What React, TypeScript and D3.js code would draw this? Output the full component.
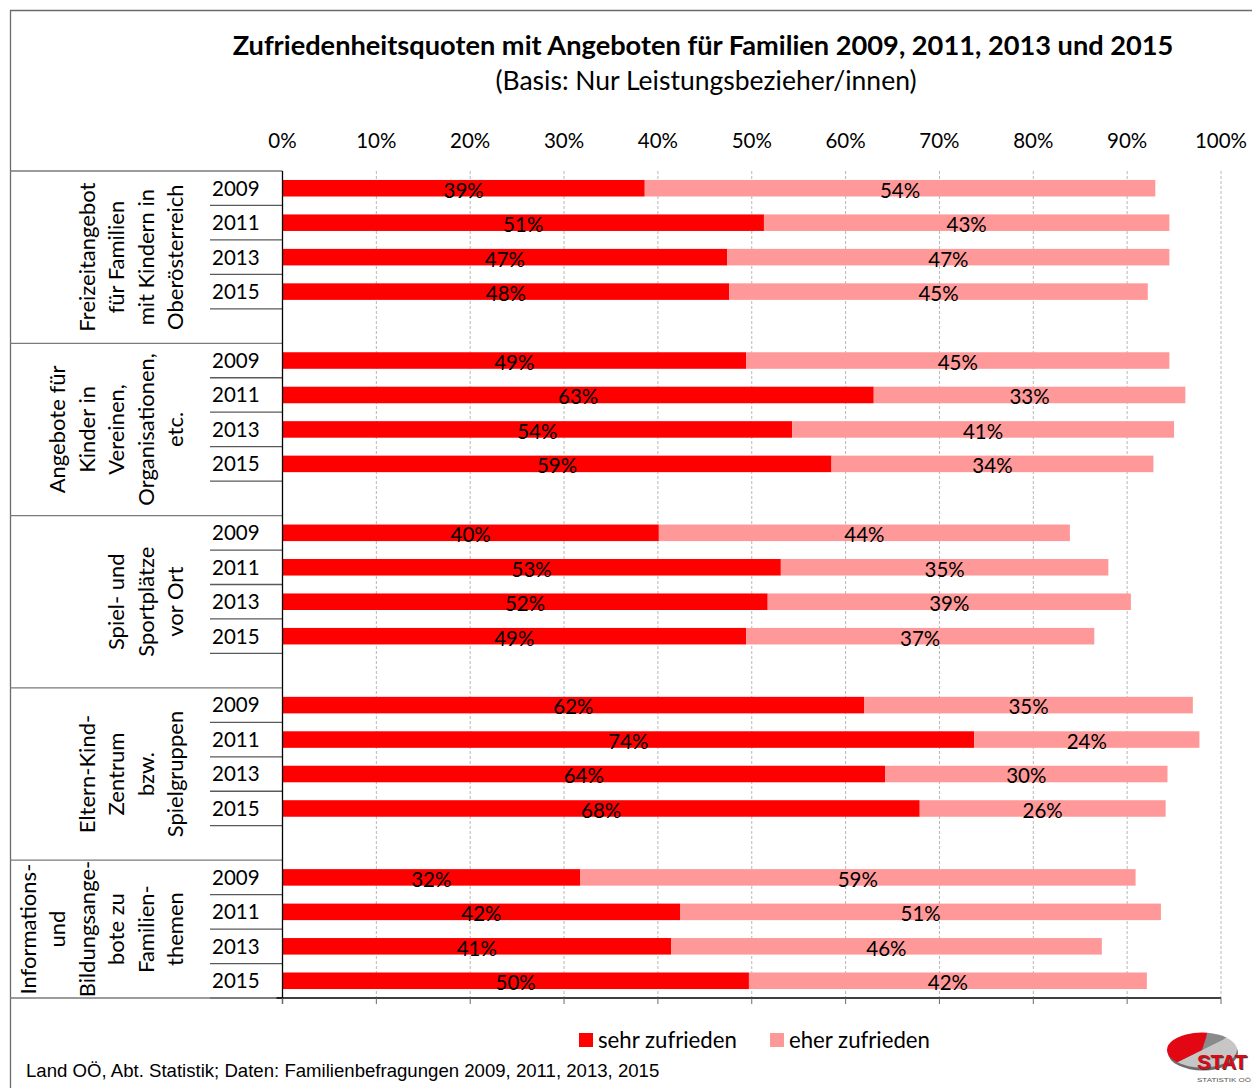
import React from "react";
import * as d3 from "d3";

const groupLabels: string[][] = [
  ["Freizeitangebot", "für Familien", "mit Kindern in", "Oberösterreich"],
  ["Angebote für", "Kinder in", "Vereinen,", "Organisationen,", "etc."],
  ["Spiel- und", "Sportplätze", "vor Ort"],
  ["Eltern-Kind-", "Zentrum", "bzw.", "Spielgruppen"],
  ["Informations-", "und", "Bildungsange-", "bote zu", "Familien-", "themen"],
];
const years = ["2009", "2011", "2013", "2015"];
// values per group, per year (percent)
const sehrZufrieden: number[][] = [
  [38.6, 51.3, 47.4, 47.6],
  [49.4, 63.0, 54.3, 58.5],
  [40.1, 53.1, 51.7, 49.4],
  [62.0, 73.7, 64.2, 67.9],
  [31.7, 42.4, 41.4, 49.7],
];
const eherZufrieden: number[][] = [
  [54.4, 43.2, 47.1, 44.6],
  [45.1, 33.2, 40.7, 34.3],
  [43.8, 34.9, 38.7, 37.1],
  [35.0, 24.0, 30.1, 26.2],
  [59.2, 51.2, 45.9, 42.4],
];
const xTicks = [0, 10, 20, 30, 40, 50, 60, 70, 80, 90, 100];
const seriesNames = ["sehr zufrieden", "eher zufrieden"];
const title = "Zufriedenheitsquoten mit Angeboten für Familien 2009, 2011, 2013 und 2015";
const subtitle = "(Basis: Nur Leistungsbezieher/innen)";
const source = "Land OÖ, Abt. Statistik; Daten: Familienbefragungen 2009, 2011, 2013, 2015";

const W = 1252;
const H = 1088;
const FONT = "Lato, Carlito, Calibri, 'Open Sans', sans-serif";
const ARIAL = "'Liberation Sans', Arial, sans-serif";
const RED = "#FF0000";
const PINK = "#FF9999";

export default function App() {
  const left = 282.5;
  const right = 1221;
  const top = 171;
  const bottom = 998;
  const nG = groupLabels.length;

  const x = d3.scaleLinear().domain([0, 100]).range([left, right]);

  const keys: string[] = [];
  groupLabels.forEach((_, gi) => {
    years.forEach((yr) => keys.push(`${gi}-${yr}`));
    if (gi < nG - 1) keys.push(`${gi}-blank`);
  });
  const y = d3
    .scaleBand<string>()
    .domain(keys)
    .range([top, bottom])
    .paddingInner(0.52)
    .paddingOuter(0.26);
  const step = y.step();

  const rows: { key: string; gi: number; yi: number; a: number; b: number }[] = [];
  groupLabels.forEach((_, gi) =>
    years.forEach((yr, yi) =>
      rows.push({ key: `${gi}-${yr}`, gi, yi, a: sehrZufrieden[gi][yi], b: eherZufrieden[gi][yi] })
    )
  );

  const groupStart = (gi: number) => top + gi * 5 * step;
  const groupEnd = (gi: number) => Math.min(bottom, top + (gi * 5 + 5) * step);

  const lastLineX = 175;
  const lineGap = 29.4;

  // logo
  const pie = d3.pie<number>().sort(null).startAngle(0.05 * Math.PI).endAngle(2.05 * Math.PI);
  const logoSlices = pie([0.1, 0.5, 0.4]);
  const arc = d3.arc<d3.PieArcDatum<number>>().innerRadius(0).outerRadius(35);
  const logoColors = ["#8a8a8a", "#c6c6c6", "#e30613"];

  return (
    <svg width={W} height={H} style={{ display: "block", position: "absolute", left: 0, top: 0 }} fontFamily={FONT}>
      <rect x={0} y={0} width={W} height={H} fill="#fff" />
      {/* outer frame */}
      <line x1={10} y1={10.5} x2={W} y2={10.5} stroke="#6b6b6b" strokeWidth={1.3} />
      <line x1={10.5} y1={10} x2={10.5} y2={H} stroke="#6b6b6b" strokeWidth={1.3} />

      {/* title */}
      <text x={703} y={55} textAnchor="middle" fontSize={27.2} fontWeight="bold" fill="#000">
        {title}
      </text>
      <text x={706} y={90} textAnchor="middle" fontSize={26.5} fill="#000">
        {subtitle}
      </text>

      {/* grid lines */}
      {xTicks.slice(1).map((t) => (
        <line key={`g${t}`} x1={x(t)} x2={x(t)} y1={top} y2={bottom} stroke="#b8b8b8" strokeWidth={1} strokeDasharray="3,2" />
      ))}
      {/* top tick labels */}
      {xTicks.map((t) => (
        <text key={`t${t}`} x={x(t)} y={148} textAnchor="middle" fontSize={20.5} fill="#000">
          {`${t}%`}
        </text>
      ))}

      {/* bars */}
      {rows.map((r) => {
        const yy = y(r.key)!;
        const bh = y.bandwidth();
        return (
          <g key={r.key}>
            <rect x={x(0)} y={yy} width={x(r.a) - x(0)} height={bh} fill={RED} />
            <rect x={x(r.a)} y={yy} width={x(r.a + r.b) - x(r.a)} height={bh} fill={PINK} />
            <text x={(x(0) + x(r.a)) / 2} y={yy + bh / 2 + 2} dy="0.36em" textAnchor="middle" fontSize={20.5} fill="#000">
              {`${Math.round(r.a)}%`}
            </text>
            <text x={(x(r.a) + x(r.a + r.b)) / 2} y={yy + bh / 2 + 2} dy="0.36em" textAnchor="middle" fontSize={20.5} fill="#000">
              {`${Math.round(r.b)}%`}
            </text>
            <text x={212} y={yy + bh / 2} dy="0.36em" textAnchor="start" fontSize={20.5} fill="#000">
              {years[r.yi]}
            </text>
          </g>
        );
      })}

      {/* category axis lines */}
      {groupLabels.map((_, gi) => (
        <g key={`gl${gi}`}>
          <line x1={10} x2={x(0)} y1={groupStart(gi)} y2={groupStart(gi)} stroke="#7a7a7a" strokeWidth={1.3} />
          {years.map((_, yi) => {
            const yl = top + (gi * 5 + yi + 1) * step;
            return <line key={yi} x1={210} x2={x(0)} y1={yl} y2={yl} stroke="#5a5a5a" strokeWidth={1.3} />;
          })}
        </g>
      ))}
      <line x1={10} x2={x(0)} y1={bottom} y2={bottom} stroke="#7a7a7a" strokeWidth={1.3} />

      {/* group labels */}
      {groupLabels.map((lines, gi) => {
        const cy = (groupStart(gi) + groupEnd(gi)) / 2;
        const n = lines.length;
        return (
          <g key={`lab${gi}`}>
            {lines.map((ln, li) => {
              const cx = lastLineX - (n - 1 - li) * lineGap;
              return (
                <text
                  key={li}
                  transform={`translate(${cx},${cy}) rotate(-90)`}
                  textAnchor="middle"
                  dy="0.36em"
                  fontSize={22}
                  fill="#000"
                >
                  {ln}
                </text>
              );
            })}
          </g>
        );
      })}

      {/* value axis */}
      <line x1={x(0)} x2={x(0)} y1={top} y2={bottom + 6} stroke="#000" strokeWidth={1.3} />
      <line x1={x(0) - 6} x2={right} y1={bottom} y2={bottom} stroke="#000" strokeWidth={1.3} />
      {xTicks.map((t) => (
        <line key={`bt${t}`} x1={x(t)} x2={x(t)} y1={bottom} y2={bottom + 6} stroke="#6b6b6b" strokeWidth={1} />
      ))}

      {/* legend */}
      <rect x={579} y={1033} width={14} height={14} fill={RED} />
      <text x={598} y={1040} dy="0.36em" fontSize={22.2} fill="#000">
        {seriesNames[0]}
      </text>
      <rect x={770} y={1033} width={14} height={14} fill={PINK} />
      <text x={789} y={1040} dy="0.36em" fontSize={22.2} fill="#000">
        {seriesNames[1]}
      </text>

      {/* source */}
      <text x={26} y={1077} fontSize={18.6} fontFamily={ARIAL} fill="#000">
        {source}
      </text>

      {/* logo */}
      <g transform="translate(1202,1050) scale(1,0.5)">
        <ellipse cx={1} cy={6} rx={35} ry={35} fill="#6e6e6e" />
        {logoSlices.map((s, i) => (
          <path key={i} d={arc(s) || ""} fill={logoColors[i]} />
        ))}
      </g>
      <text x={1198} y={1070} fontSize={21} fontWeight="bold" fontFamily={ARIAL} fill="#3a3a3a" textLength={50} lengthAdjust="spacingAndGlyphs">
        STAT
      </text>
      <text x={1197} y={1069} fontSize={21} fontWeight="bold" fontFamily={ARIAL} fill="#e30613" textLength={50} lengthAdjust="spacingAndGlyphs">
        STAT
      </text>
      <text x={1197} y={1082} fontSize={6} fontFamily={ARIAL} fill="#555" textLength={54} lengthAdjust="spacingAndGlyphs">
        STATISTIK OÖ
      </text>
    </svg>
  );
}
